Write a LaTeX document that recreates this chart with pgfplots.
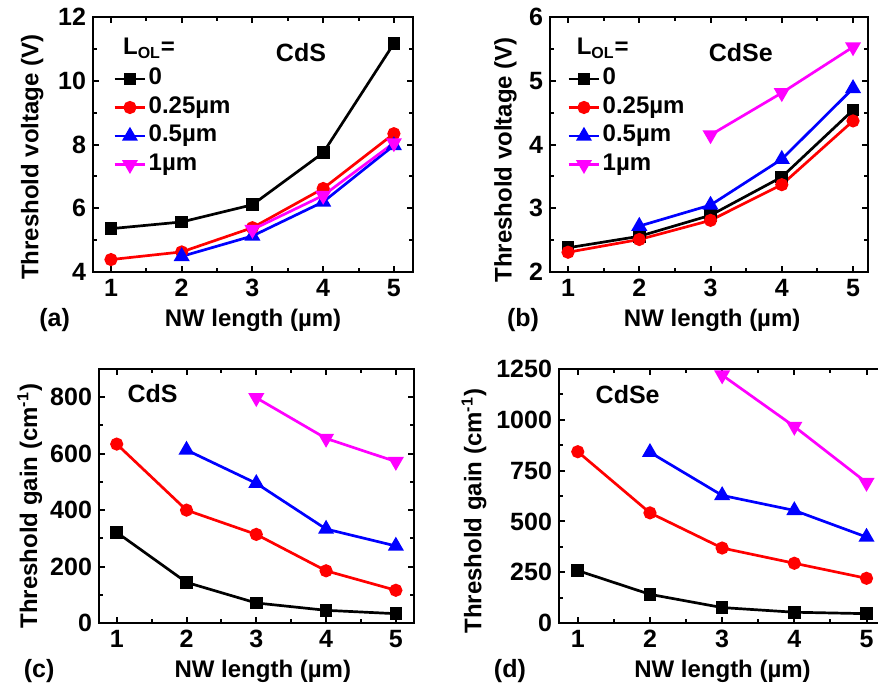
\documentclass[border=0pt]{standalone}
\usepackage{pgfplots}
\pgfplotsset{compat=1.18}
\usepackage{fontspec}
\setmainfont{Liberation Sans}

\definecolor{mag}{RGB}{255,0,255}
\definecolor{pureblue}{RGB}{0,0,255}
\definecolor{purered}{RGB}{255,0,0}

\newcommand\tickfont{\fontsize{12.5}{12.5}\selectfont\bfseries}
\newcommand\labfont{\fontsize{12}{12}\selectfont\bfseries}
\newcommand\legfont{\fontsize{12}{12}\selectfont\bfseries}
\newcommand\tagfont{\fontsize{12.5}{12.5}\selectfont\bfseries}

\pgfplotsset{
  panel/.style={
    scale only axis,
    clip=false,
    axis line style={line width=1pt},
    tick style={line width=1pt, black},
    major tick length=3pt, minor tick length=2pt,
    tick align=inside,
    xtick={1,2,3,4,5}, minor x tick num=1, minor y tick num=1,
    ticklabel style={font=\tickfont},
    /pgf/number format/assume math mode=true,
    /pgf/number format/1000 sep={},
    label style={font=\labfont},
    every axis plot/.append style={line width=1.35pt},
    legend style={draw=none, fill=none, font=\legfont, inner sep=0pt,
      anchor=north west, row sep=0pt, column sep=0pt,
      nodes={inner sep=1pt, text height=9pt, text depth=3.3pt}},
    legend cell align=left,
    legend image code/.code={
      \draw[mark repeat=2, mark phase=2] plot coordinates {(0cm,0cm) (0.27cm,0cm) (0.54cm,0cm)};},
  },
  s0/.style={black, mark=square*, mark size=2.5pt, mark options={solid}},
  s1/.style={purered, mark=*, mark size=2.6pt, mark options={solid}},
  s2/.style={pureblue, mark=triangle*, mark size=3.3pt, mark options={solid}},
  s3/.style={mag, mark=triangle*, mark size=3.3pt, mark options={solid, rotate=180}},
}

\begin{document}
\begin{tikzpicture}
\path[use as bounding box, clip] (0,0) rectangle (439pt,346pt);

% (a) CdS threshold voltage
\begin{axis}[panel, at={(46.5pt,210pt)}, anchor=south west,
  width=160pt, height=127.5pt,
  xmin=0.746, xmax=5.27, ymin=4, ymax=12, ytick={4,6,8,10,12},
  xlabel={NW length (µm)}, ylabel={Threshold voltage (V)},
  xlabel style={at={(axis description cs:0.5,-0.19)}, anchor=center},
  ylabel style={at={(axis description cs:-0.19,0.45)}, anchor=center},
  legend style={at={(axis description cs:0.062,0.815)}}]
\addplot[s0] coordinates {(1,5.36) (2,5.57) (3,6.11) (4,7.74) (5,11.17)};
\addplot[s1] coordinates {(1,4.39) (2,4.63) (3,5.39) (4,6.62) (5,8.34)};
\addplot[s2] coordinates {(2,4.49) (3,5.13) (4,6.20) (5,7.97)};
\addplot[s3] coordinates {(3,5.33) (4,6.40) (5,8.05)};
\legend{0, 0.25µm, 0.5µm, 1µm}
\node[font=\legfont, anchor=west] at (axis description cs:0.072,0.878) {L\textsubscript{OL}=};
\node[font=\tagfont] at (axis description cs:0.65,0.86) {CdS};
\node[font=\tagfont] at (axis description cs:-0.12,-0.19) {(a)};
\end{axis}

% (b) CdSe threshold voltage
\begin{axis}[panel, at={(275pt,210pt)}, anchor=south west,
  width=159pt, height=127.5pt,
  xmin=0.747, xmax=5.21, ymin=2, ymax=6, ytick={2,3,4,5,6},
  xlabel={NW length (µm)}, ylabel={Threshold voltage (V)},
  xlabel style={at={(axis description cs:0.51,-0.19)}, anchor=center},
  ylabel style={at={(axis description cs:-0.14,0.44)}, anchor=center},
  legend style={at={(axis description cs:0.053,0.815)}}]
\addplot[s0] coordinates {(1,2.38) (2,2.56) (3,2.89) (4,3.49) (5,4.54)};
\addplot[s1] coordinates {(1,2.31) (2,2.51) (3,2.81) (4,3.37) (5,4.37)};
\addplot[s2] coordinates {(2,2.72) (3,3.05) (4,3.77) (5,4.88)};
\addplot[s3] coordinates {(3,4.15) (4,4.81) (5,5.53)};
\legend{0, 0.25µm, 0.5µm, 1µm}
\node[font=\legfont, anchor=west] at (axis description cs:0.062,0.878) {L\textsubscript{OL}=};
\node[font=\tagfont] at (axis description cs:0.60,0.86) {CdSe};
\node[font=\tagfont] at (axis description cs:-0.085,-0.19) {(b)};
\end{axis}

% (c) CdS threshold gain
\begin{axis}[panel, at={(49.5pt,34.5pt)}, anchor=south west,
  width=157.5pt, height=127pt,
  xmin=0.746, xmax=5.26, ymin=0, ymax=900, ytick={0,200,400,600,800},
  xlabel={NW length (µm)}, ylabel={Threshold gain (cm\textsuperscript{-1})},
  xlabel style={at={(axis description cs:0.52,-0.19)}, anchor=center},
  ylabel style={at={(axis description cs:-0.22,0.46)}, anchor=center}]
\addplot[s0] coordinates {(1,321) (2,144) (3,71) (4,45) (5,33)};
\addplot[s1] coordinates {(1,634) (2,400) (3,314) (4,185) (5,116)};
\addplot[s2] coordinates {(2,613) (3,495) (4,333) (5,273)};
\addplot[s3] coordinates {(3,798) (4,654) (5,572)};
\node[font=\tagfont] at (axis description cs:0.17,0.905) {CdS};
\node[font=\tagfont] at (axis description cs:-0.19,-0.19) {(c)};
\end{axis}

% (d) CdSe threshold gain
\begin{axis}[panel, at={(279.5pt,34.5pt)}, anchor=south west,
  width=163.5pt, height=127pt,
  xmin=0.74, xmax=5.27, ymin=0, ymax=1250, ytick={0,250,500,750,1000,1250},
  xlabel={NW length (µm)}, ylabel={Threshold gain (cm\textsuperscript{-1})},
  xlabel style={at={(axis description cs:0.50,-0.19)}, anchor=center},
  ylabel style={at={(axis description cs:-0.26,0.44)}, anchor=center}]
\addplot[s0] coordinates {(1,258) (2,141) (3,76) (4,53) (5,46)};
\addplot[s1] coordinates {(1,843) (2,542) (3,369) (4,294) (5,220)};
\addplot[s2] coordinates {(2,840) (3,628) (4,554) (5,423)};
\addplot[s3] coordinates {(3,1220) (4,967) (5,691)};
\node[font=\tagfont] at (axis description cs:0.21,0.90) {CdSe};
\node[font=\tagfont] at (axis description cs:-0.15,-0.19) {(d)};
\end{axis}
\end{tikzpicture}
\end{document}
